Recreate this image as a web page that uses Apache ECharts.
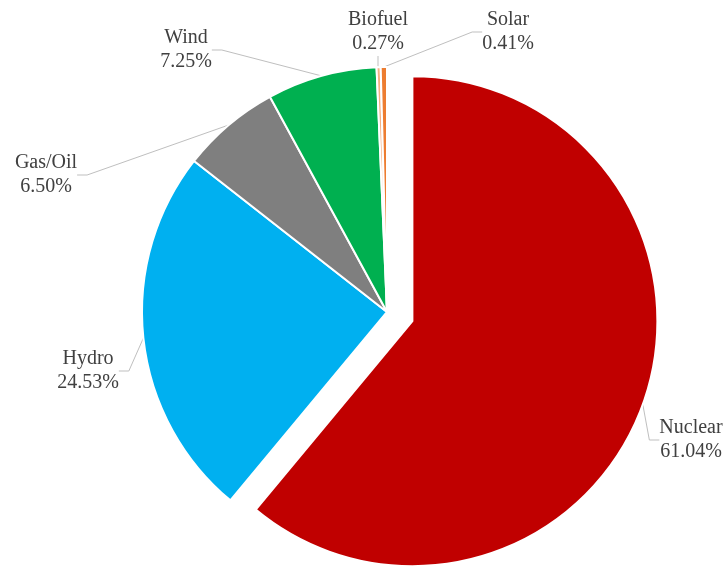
<!DOCTYPE html>
<html>
<head>
<meta charset="utf-8">
<script src="https://cdn.jsdelivr.net/npm/echarts@6/dist/echarts.min.js"></script>
<style>
  html, body { margin: 0; padding: 0; background: #ffffff; }
  #chart { width: 728px; height: 567px; }
</style>
</head>
<body>
<div id="chart"></div>
<script>
// Electricity generation mix by source (share of total, %)
const sources = ['Nuclear', 'Hydro', 'Gas/Oil', 'Wind', 'Biofuel', 'Solar'];
const shares = [61.04, 24.53, 6.50, 7.25, 0.27, 0.41];
const sliceColors = ['#C00000', '#00B0F0', '#7F7F7F', '#00B050', '#F4B183', '#ED7D31'];

// Where each label block sits (pixel centre)
const labelAnchors = [
  [691, 440], // Nuclear
  [88, 371],  // Hydro
  [46, 175],  // Gas/Oil
  [186, 50],  // Wind
  [378, 32],  // Biofuel
  [508, 32]   // Solar
];

const pieCenter = [387, 312];
const pieRadius = 245;
const explodeDistance = 27;
const exploded = 'Nuclear';

// Pull the exploded slice outward along its own mid-angle
const total = shares.reduce((s, v) => s + v, 0);
let before = 0;
for (let i = 0; i < sources.indexOf(exploded); i++) before += shares[i];
const midFrac = (before + shares[sources.indexOf(exploded)] / 2) / total;
const midAngle = midFrac * 2 * Math.PI; // clockwise from 12 o'clock
const explodedCenter = [
  pieCenter[0] + explodeDistance * Math.sin(midAngle),
  pieCenter[1] - explodeDistance * Math.cos(midAngle)
];

const chart = echarts.init(document.getElementById('chart'), null, { renderer: 'canvas' });

const labelStyle = {
  show: true,
  position: 'outside',
  formatter: p => p.name + '\n' + p.value.toFixed(2) + '%',
  fontFamily: '"Liberation Serif", "Times New Roman", serif',
  fontSize: 20,
  lineHeight: 24,
  color: '#404040',
  align: 'center'
};

// Build one ring where only the chosen slices are drawn; the rest stay as invisible spacers
function ringData(visible) {
  return sources.map((name, i) => {
    const on = visible(name);
    return {
      name: name,
      value: shares[i],
      itemStyle: on
        ? { color: sliceColors[i], borderColor: '#ffffff', borderWidth: 2 }
        : { color: 'rgba(0,0,0,0)', borderWidth: 0 },
      label: { show: on },
      labelLine: { show: on }
    };
  });
}

function pieSeries(center, visible) {
  return {
    type: 'pie',
    center: center,
    radius: pieRadius,
    startAngle: 90,
    clockwise: true,
    avoidLabelOverlap: false,
    minShowLabelAngle: 0,
    silent: true,
    label: labelStyle,
    labelLine: {
      length: 10,
      length2: 10,
      lineStyle: { color: '#BFBFBF', width: 1 }
    },
    labelLayout: function (params) {
      const a = labelAnchors[params.dataIndex];
      return { x: a[0], y: a[1], align: 'center', verticalAlign: 'middle' };
    },
    emphasis: { disabled: true },
    data: ringData(visible)
  };
}

chart.setOption({
  animation: false,
  backgroundColor: '#ffffff',
  series: [
    pieSeries(pieCenter, name => name !== exploded),
    pieSeries(explodedCenter, name => name === exploded)
  ]
});
</script>
</body>
</html>
